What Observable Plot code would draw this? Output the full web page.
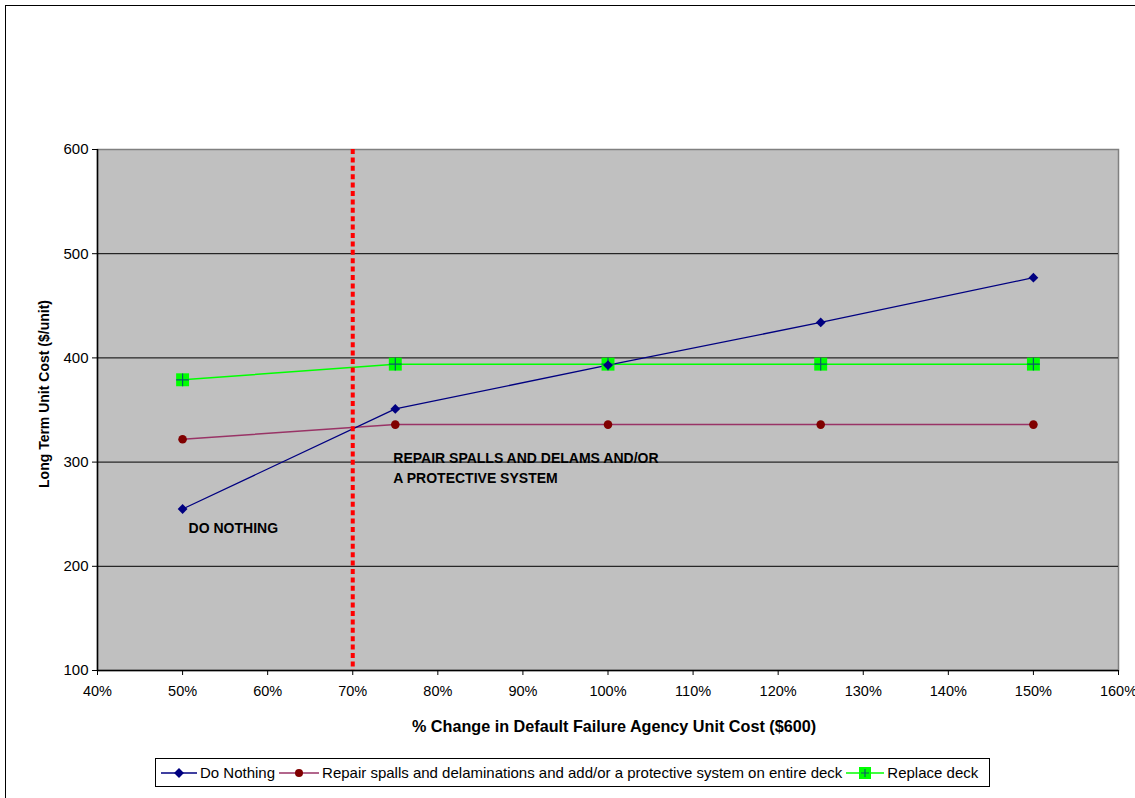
<!DOCTYPE html>
<html>
<head>
<meta charset="utf-8">
<script src="https://cdn.jsdelivr.net/npm/d3@7"></script>
<script src="https://cdn.jsdelivr.net/npm/@observablehq/plot@0.6"></script>
<style>
  html, body { margin: 0; padding: 0; background: #fff; }
  #wrap { position: relative; width: 1135px; height: 798px; overflow: hidden; font-family: "Liberation Sans", Arial, sans-serif; }
  #frame { position: absolute; left: 5px; top: 5px; width: 1200px; height: 900px; border-left: 1px solid #000; border-top: 1.5px solid #000; box-sizing: border-box; }
  #chart { position: absolute; left: 0; top: 0; }
  #legend { position: absolute; left: 155px; top: 758px; height: 29px; width: 835px; box-sizing: border-box;
            border: 1px solid #000; background: #fff; display: flex; align-items: center; font-size: 15px; color: #000; padding-left: 5px; }
  #legend .item { display: flex; align-items: center; margin-right: 4px; white-space: nowrap; }
  #legend svg { margin-right: 3px; }
</style>
</head>
<body>
<div id="wrap">
  <div id="frame"></div>
  <div id="chart"></div>
  <div id="legend"></div>
</div>
<script>
// Percent change in default failure agency unit cost
const xPct = [50, 75, 100, 125, 150];
// Long term unit cost ($/unit) per strategy
const doNothing = [255, 351, 393, 434, 477];
const repairProtect = [322, 336, 336, 336, 336];
const replaceDeck = [379, 394, 394, 394, 394];
const seriesNames = [
  "Do Nothing",
  "Repair spalls and delaminations and add/or a protective system on entire deck",
  "Replace deck"
];
const xTicks = [40, 50, 60, 70, 80, 90, 100, 110, 120, 130, 140, 150, 160];
const yTicks = [100, 200, 300, 400, 500, 600];
const gridValues = [200, 300, 400, 500];
const thresholdPct = 70;
const annotations = [
  {text: "DO NOTHING", x: 50, y: 255},
  {text: "REPAIR SPALLS AND DELAMS AND/OR\nA PROTECTIVE SYSTEM", x: 75, y: 336}
];

const colors = {dn: "#000080", rp: "#800000", rpLine: "#993366", rd: "#00ff00", rdPlus: "#0a5a6a"};

const rows = (ys) => xPct.map((x, i) => ({x, y: ys[i]}));
const dn = rows(doNothing), rp = rows(repairProtect), rd = rows(replaceDeck);

const chart = Plot.plot({
  width: 1135,
  height: 745,
  marginLeft: 97,
  marginRight: 17,
  marginTop: 149,
  marginBottom: 75,
  style: {fontFamily: "'Liberation Sans', Arial, sans-serif", fontSize: "14px", background: "transparent", color: "#000"},
  x: {domain: [40, 160]},
  y: {domain: [100, 600]},
  marks: [
    Plot.frame({fill: "#c0c0c0", stroke: "#808080", strokeWidth: 1.5}),
    Plot.ruleY(gridValues, {stroke: "#000", strokeWidth: 1}),
    Plot.ruleX([40], {stroke: "#000", strokeWidth: 1.5}),
    Plot.ruleY([100], {stroke: "#000", strokeWidth: 1.5}),
    Plot.axisX(xTicks, {tickSize: 5, tickPadding: 10, tickFormat: d => d + "%", label: null, fontSize: 14.5}),
    Plot.axisY(yTicks, {tickSize: 5, tickPadding: 4, label: null, fontSize: 15}),
    Plot.text(["% Change in Default Failure Agency Unit Cost ($600)"], {frameAnchor: "bottom", dx: 6, dy: 61, fontWeight: "bold", fontSize: 16.2}),
    Plot.text(["Long Term Unit Cost ($/unit)"], {frameAnchor: "left", textAnchor: "middle", dx: -53, dy: -16, rotate: -90, fontWeight: "bold", fontSize: 14}),
    // series
    Plot.line(rd, {x: "x", y: "y", stroke: colors.rd, strokeWidth: 1.5}),
    Plot.line(rp, {x: "x", y: "y", stroke: colors.rpLine, strokeWidth: 1.5}),
    Plot.line(dn, {x: "x", y: "y", stroke: colors.dn, strokeWidth: 1.3}),
    Plot.dot(rd, {x: "x", y: "y", symbol: "square", r: 7.3, fill: colors.rd, stroke: "none"}),
    Plot.dot(rd, {x: "x", y: "y", symbol: "plus", r: 4.2, stroke: colors.rdPlus, strokeWidth: 1.2}),
    Plot.dot(rp, {x: "x", y: "y", symbol: "circle", r: 4.3, fill: colors.rp, stroke: "none"}),
    Plot.dot(dn, {x: "x", y: "y", symbol: "square", rotate: 45, r: 3.9, fill: colors.dn, stroke: "none"}),
    // threshold
    Plot.ruleX([thresholdPct], {stroke: "#ff0000", strokeWidth: 4, strokeDasharray: "5,3.4"}),
    // labels
    Plot.text(annotations.slice(0, 1), {x: "x", y: "y", text: "text", textAnchor: "start", dx: 6, dy: 20, fontWeight: "bold", fontSize: 14}),
    Plot.text(annotations.slice(1), {x: "x", y: "y", text: "text", textAnchor: "start", dx: -2, dy: 42, lineHeight: 1.45, fontWeight: "bold", fontSize: 14})
  ]
});
document.getElementById("chart").appendChild(chart);

// Legend
const legend = d3.select("#legend");
const swatch = (item, lineColor, drawMarker, w) => {
  const svg = item.append("svg").attr("width", w).attr("height", 14);
  svg.append("line").attr("x1", 0).attr("x2", w).attr("y1", 7).attr("y2", 7).attr("stroke", lineColor).attr("stroke-width", 1.5);
  drawMarker(svg.append("g").attr("transform", `translate(${w / 2},7)`));
};
const items = [
  {name: seriesNames[0], line: colors.dn, w: 36, marker: g => g.append("rect").attr("x", -3.5).attr("y", -3.5).attr("width", 7).attr("height", 7).attr("transform", "rotate(45)").attr("fill", colors.dn)},
  {name: seriesNames[1], line: colors.rpLine, w: 40, marker: g => g.append("circle").attr("r", 4).attr("fill", colors.rp)},
  {name: seriesNames[2], line: colors.rd, w: 38, marker: g => {
    g.append("rect").attr("x", -6).attr("y", -6).attr("width", 12).attr("height", 12).attr("fill", colors.rd);
    g.append("path").attr("d", "M-4,0H4M0,-4V4").attr("stroke", colors.rdPlus).attr("stroke-width", 1.2);
  }}
];
for (const it of items) {
  const item = legend.append("div").attr("class", "item");
  swatch(item, it.line, it.marker, it.w);
  item.append("span").text(it.name);
}
</script>
</body>
</html>
